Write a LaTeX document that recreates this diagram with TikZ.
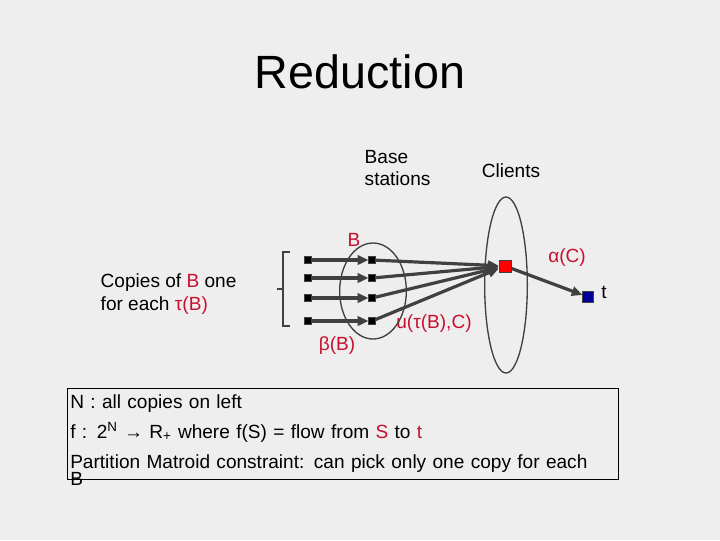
\documentclass[tikz,border=0pt]{standalone}
\usepackage{fontspec}
\setmainfont{Liberation Sans}
\usetikzlibrary{arrows.meta,shapes.geometric}
\definecolor{bg}{HTML}{EEEEEE}
\definecolor{rd}{HTML}{C8102E}
\definecolor{dk}{HTML}{404040}
\begin{document}
\begin{tikzpicture}[x=0.75pt,y=-0.75pt,
 sq/.style={draw=dk,fill=black,minimum size=5pt,inner sep=0pt},
 arr/.style={draw=dk,line width=2.4pt,-{Triangle[length=8pt,width=7pt]}},
 lbl/.style={font=\fontsize{14.3}{17}\selectfont,align=left},
 red/.style={lbl,text=rd}]
\fill[bg] (0,0) rectangle (720,540);
\useasboundingbox (0,0) rectangle (720,540);
\node (title) at (360,72) {\fontsize{35}{40}\selectfont Reduction};
\node[lbl,anchor=west] (bs) at (360,168) {Base\\stations};
\node[lbl] (cl) at (511,171) {Clients};
\node[red] (B) at (354,240) {B};
\node[red] (al) at (567,258) {α(C)};
\node[red] (be) at (337,346) {β(B)};
\node[red] (u) at (434,324) {u(τ(B),C)};
\node[lbl,anchor=west] (cp) at (96,294) {Copies of \textcolor{rd}{B} one\\for each \textcolor{rd}{τ(B)}};
\node[lbl] (tl) at (604,292) {t};
\node[draw=dk,line width=1pt,ellipse,minimum width=50pt, minimum height=72pt,inner sep=0] (e1) at (373,291) {};
\node[draw=dk,line width=1pt,ellipse,minimum width=32pt,minimum height=132pt,inner sep=0] (e2) at (506,285) {};
\foreach \i/\y in {1/260,2/278,3/298,4/321}{
 \node[sq] (l\i) at (308,\y) {};
 \node[sq] (m\i) at (372,\y) {};
 \draw[arr] (l\i) -- (m\i);
}
\node[draw=dk,fill=red,minimum size=9pt,inner sep=0pt] (c) at (505,266) {};
\node[draw=dk,fill=blue!60!black,minimum size=8pt,inner sep=0pt] (t) at (588,297) {};
\foreach \i in {1,...,4}{\draw[arr] (m\i) -- (c);}
\draw[arr] (c) -- (t);
\draw[dk,line width=1.5pt] (290,252) -- (283,252) -- (283,326) -- (290,326);
\draw[dk,line width=1.2pt] (283,289) -- (277,289);
\node[draw=black,line width=0.6pt,minimum width=413pt,minimum height=68pt,anchor=north west] (box) at (67,388) {};
\node[lbl,anchor=north west,text width=420pt,inner sep=0pt] (txt) at (70,394) {\setlength{\baselineskip}{22.5pt}N : all copies on left\\
f : 2\textsuperscript{N} → R\textsubscript{+} where f(S) = flow from \textcolor{rd}{S} to \textcolor{rd}{t}\\
Partition Matroid constraint: can pick only one copy for each\\[-4pt] B};
\end{tikzpicture}
\end{document}
